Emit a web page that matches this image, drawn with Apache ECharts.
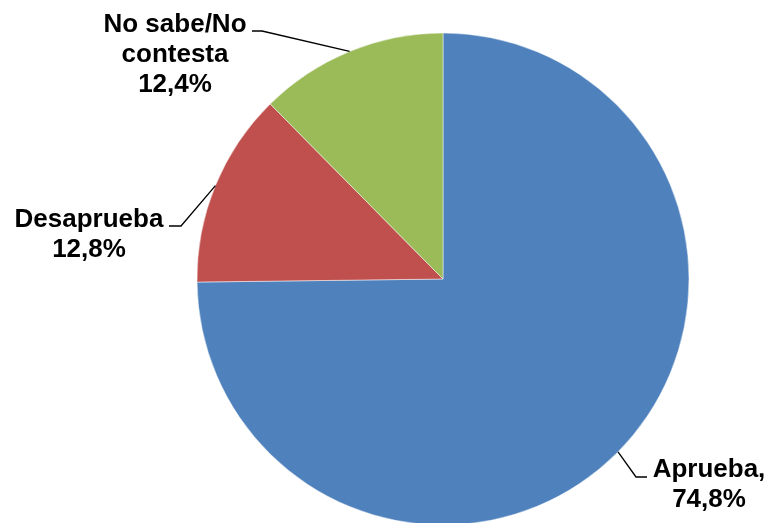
<!DOCTYPE html>
<html>
<head>
<meta charset="utf-8">
<script src="https://cdn.jsdelivr.net/npm/echarts@6/dist/echarts.min.js"></script>
<style>
html,body{margin:0;padding:0;background:#fff;}
#main{width:768px;height:523px;}
</style>
</head>
<body>
<div id="main"></div>
<script>
// ---- data ----
var categories = ['Aprueba', 'Desaprueba', 'No sabe/No\ncontesta'];
var values = [74.8, 12.8, 12.4];
var separators = [',\n', '\n', '\n'];
var colors = ['#4F81BD', '#C0504D', '#9BBB59'];

// ---- layout constants ----
var CX = 443, CY = 279, R = 246, START = 90;
var labelCenters = [[709, 485], [89, 235], [175, 55]];
// leader line elbow and end points (per label)
var elbows = [[[636, 477], [647, 477]], [[181, 226], [169, 226]], [[262, 31], [252, 31]]];

var chart = echarts.init(document.getElementById('main'), null, {renderer: 'canvas'});

function fmt(v) { return v.toFixed(1).replace('.', ',') + '%'; }

var pieData = categories.map(function (c, i) {
  return { name: c, value: values[i], itemStyle: { color: colors[i] } };
});

// leader lines: anchor at mid-angle of each slice on the pie's edge, computed from data
var total = values.reduce(function (a, b) { return a + b; }, 0);
var lines = [];
var acc = 0;
values.forEach(function (v, i) {
  var a0 = -START * Math.PI / 180 + acc / total * 2 * Math.PI;
  acc += v;
  var a1 = -START * Math.PI / 180 + acc / total * 2 * Math.PI;
  var mid = (a0 + a1) / 2;
  var ax = CX + R * Math.cos(mid), ay = CY + R * Math.sin(mid);
  lines.push({
    type: 'polyline',
    z: 100,
    shape: { points: [[ax, ay], elbows[i][0], elbows[i][1]] },
    style: { stroke: '#000', lineWidth: 1.3, fill: null }
  });
});

chart.setOption({
  animation: false,
  backgroundColor: '#fff',
  graphic: lines,
  series: [{
    type: 'pie',
    center: [CX, CY],
    radius: R,
    startAngle: START,
    clockwise: true,
    data: pieData,
    itemStyle: { borderColor: 'rgba(255,255,255,0.6)', borderWidth: 0.8 },
    label: {
      show: true,
      position: 'outside',
      alignTo: 'none',
      overflow: 'none',
      color: '#000',
      fontFamily: 'Liberation Sans, Arial, sans-serif',
      fontWeight: 'bold',
      fontSize: 26,
      lineHeight: 30,
      align: 'center',
      formatter: function (p) {
        return p.name + separators[p.dataIndex] + fmt(p.value);
      }
    },
    labelLine: { show: false },
    labelLayout: function (p) {
      var c = labelCenters[p.dataIndex];
      return { x: c[0], y: c[1], align: 'center', verticalAlign: 'middle', width: 200 };
    },
    emphasis: { disabled: true }
  }]
});
</script>
</body>
</html>
